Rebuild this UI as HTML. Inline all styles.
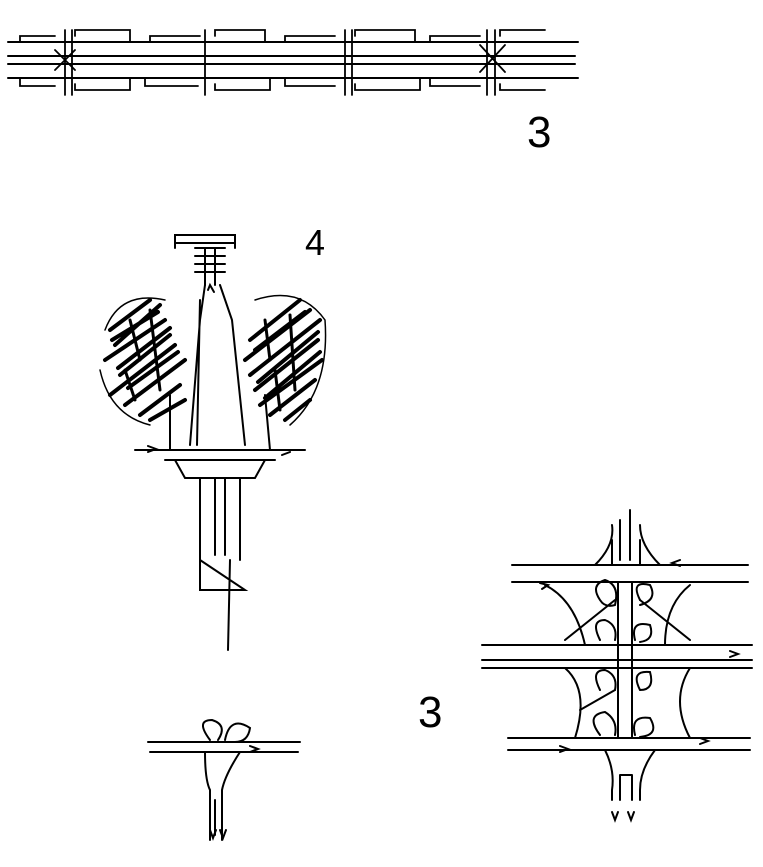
<!DOCTYPE html>
<html><head><meta charset="utf-8"><style>
html,body{margin:0;padding:0;background:#fff;}
svg{display:block;}
text{font-family:"Liberation Sans",sans-serif;fill:#000;}
</style></head><body>
<svg width="763" height="867" viewBox="0 0 763 867" xmlns="http://www.w3.org/2000/svg" stroke="#000" fill="none" stroke-width="2" stroke-linecap="round">
<line x1="8" y1="42" x2="578" y2="42"/>
<line x1="8" y1="56" x2="575" y2="56"/>
<line x1="8" y1="64" x2="575" y2="64"/>
<line x1="8" y1="78" x2="578" y2="78"/>
<g stroke-width="1.8">
<path d="M20 42 V36 H55 M75 36 V30 H130 V42 M150 42 V36 H200 M215 36 V30 H265 V42 M285 42 V36 H335 M355 36 V30 H415 V42 M430 42 V36 H480 M500 36 V30 H545"/>
<path d="M20 78 V86 H55 M75 84 V90 H130 V78 M145 78 V86 H198 M215 84 V90 H270 V78 M285 78 V86 H335 M355 84 V90 H420 V78 M430 78 V86 H480 M500 84 V90 H545"/>
<path d="M65 30 V95 M72 30 V95 M205 30 V95 M345 30 V95 M352 30 V95 M487 30 V95 M495 30 V95"/>
<path d="M55 50 L75 70 M75 50 L55 70 M480 45 L505 72 M505 45 L480 72"/>
</g>
<text x="527" y="147" font-size="44" stroke="none">3</text>
<text x="305" y="255" font-size="36" stroke="none">4</text>
<text x="418" y="727" font-size="44" stroke="none">3</text>

<path d="M175 248 V235 H235 V248 M175 243 H235"/>
<path d="M195 248 H225 M195 256 H225 M195 264 H225 M195 272 H225 M205 248 V285 M215 248 V285"/>
<path d="M205 285 L200 320 L190 445 M220 285 L232 320 L245 445 M200 300 L197 445"/>
<path d="M208 290 L210 285 L214 292"/>
<g stroke-width="4">
<path d="M110 330 L150 300 M115 345 L160 305 M105 360 L165 320 M120 375 L170 335 M110 395 L175 345 M125 405 L185 360 M140 415 L180 385 M150 420 L185 400 M112 340 L158 312 M118 368 L170 328 M128 388 L178 352"/>
<path d="M250 340 L300 300 M245 360 L310 310 M250 375 L320 320 M255 390 L318 340 M260 405 L322 360 M270 415 L315 380 M285 420 L310 400 M255 350 L305 312 M258 382 L318 332 M265 398 L320 352"/>
</g>
<g stroke-width="3">
<path d="M130 320 L140 360 M150 310 L160 390 M125 370 L135 400 M265 320 L270 360 M290 315 L295 390 M275 370 L280 410"/>
</g>
<path d="M105 330 Q120 290 165 300 M100 370 Q110 415 150 425 M255 300 Q300 285 325 320 Q330 390 290 425" stroke-width="1.5"/>
<path d="M170 395 L170 450 M265 395 L270 450"/>
<line x1="135" y1="450" x2="305" y2="450"/>
<line x1="165" y1="460" x2="275" y2="460"/>
<path d="M175 460 L185 478 H255 L265 460"/>
<path d="M200 478 V560 M240 478 V560 M215 478 V555 M225 478 V555"/>
<path d="M200 560 L245 590 H200 Z M230 560 L228 650 M200 590 H245"/>
<path d="M148 452 l8 -3 l-8 -3 M290 452 l-8 3"/>

<line x1="148" y1="742" x2="300" y2="742"/>
<line x1="150" y1="752" x2="298" y2="752"/>
<path d="M210 740 Q195 720 212 720 Q228 725 218 740 M225 740 Q230 715 250 728 Q248 742 235 742"/>
<path d="M205 752 Q205 780 210 790 V840 M240 752 Q225 775 222 790 V840 M215 800 V835"/>
<path d="M210 830 l3 8 l3 -8 M220 830 l3 8 l3 -8 M250 752 l8 -3 l-8 -3"/>

<path d="M612 540 V565 M640 540 V565 M620 520 V560 M630 510 V560" />
<path d="M595 565 Q615 545 612 525 M660 565 Q640 545 640 525"/>
<line x1="512" y1="565" x2="748" y2="565"/>
<line x1="512" y1="582" x2="748" y2="582"/>
<line x1="482" y1="645" x2="752" y2="645"/>
<line x1="482" y1="660" x2="752" y2="660"/>
<line x1="482" y1="668" x2="752" y2="668"/>
<line x1="508" y1="738" x2="750" y2="738"/>
<line x1="508" y1="750" x2="750" y2="750"/>
<path d="M618 582 V738 M632 582 V738"/>
<path d="M545 585 Q575 600 585 645 M690 585 Q665 605 665 645 M565 668 Q590 690 575 738 M690 668 Q670 700 690 738"/>
<path d="M600 600 Q590 585 605 580 Q620 585 615 605 Q605 608 600 600 M640 600 Q630 580 650 585 Q658 600 640 605 M600 640 Q590 620 605 620 Q618 625 615 640 M635 640 Q630 620 650 625 Q655 640 640 642 M600 690 Q590 670 605 670 Q618 675 615 690 M640 690 Q630 670 650 672 Q655 690 640 690 M600 735 Q585 715 605 712 Q618 720 615 735 M635 735 Q630 715 650 718 Q660 735 640 737"/>
<path d="M565 640 L615 600 M690 640 L640 600 M580 710 L615 690"/>
<path d="M605 750 Q615 770 612 790 V800 M655 750 Q640 770 640 790 V800 M620 775 V800 M632 775 V800 M620 775 H632"/>
<path d="M612 812 l3 8 l3 -8 M628 812 l3 8 l3 -8 M540 583 l8 2 l-6 4 M560 746 l8 3 l-8 3 M680 566 l-8 -3 l8 -3 M700 738 l8 3 l-8 3 M730 651 l8 3 l-8 3"/>
</svg>
</body></html>
